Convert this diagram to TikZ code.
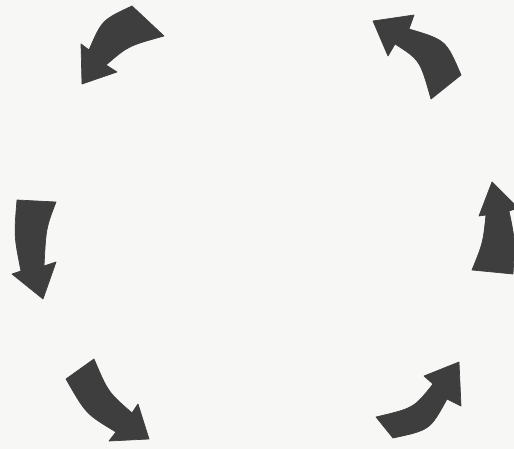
\documentclass[tikz,border=0pt]{standalone}
\usepackage{tikz}
\usepackage{xcolor}
\definecolor{paper}{RGB}{247, 247, 245}
\definecolor{ink}{RGB}{62, 62, 62}

\begin{document}
\begin{tikzpicture}[x=0.02cm, y=-0.02cm,
        arrowink/.style={fill=ink, draw=ink, line width=0.4pt, line join=round}]
        % 背景（紙）
        \fill[paper] (0,0) rectangle (514,449);
        \useasboundingbox (0,0) rectangle (514,449);
        \begin{scope}
        \clip (0,0) rectangle (514,449);
        % 左上の矢印（左下向き）
        \filldraw[arrowink] (132,6) .. controls (102,20) .. (89,50) -- (81,44) -- (82,84)
            -- (117,72) -- (106,65) .. controls (128,46) .. (164,36) -- cycle;
        % 左の矢印（下向き）
        \filldraw[arrowink] (17,200) .. controls (14,236) .. (21,271) -- (12,274) -- (43,299)
            -- (56,262) -- (44,266) .. controls (46,228) .. (56,202) -- cycle;
        % 左下の矢印（右下向き）
        \filldraw[arrowink] (66,379) .. controls (86,414) .. (116,432) -- (109,441) -- (149,439)
            -- (138,404) -- (132,413) .. controls (108,392) .. (94,359) -- cycle;
        % 右下の矢印（右上向き）
        \filldraw[arrowink] (393,438) .. controls (430,430) .. (447,399) -- (461,406) -- (459,362)
            -- (424,376) -- (433,384) .. controls (414,408) .. (376,417) -- cycle;
        % 右の矢印（上向き、右端で切れる）
        \filldraw[arrowink] (513,274) .. controls (515,240) .. (509,211) -- (518,208) -- (492,182)
            -- (479,216) -- (486,215) .. controls (483,243) .. (472,270) -- cycle;
        % 右上の矢印（左上向き）
        \filldraw[arrowink] (461,75) .. controls (446,40) .. (409,29) -- (414,15) -- (373,21)
            -- (388,56) -- (395,44) .. controls (420,60) .. (431,99) -- cycle;
        \end{scope}
\end{tikzpicture}
\end{document}
